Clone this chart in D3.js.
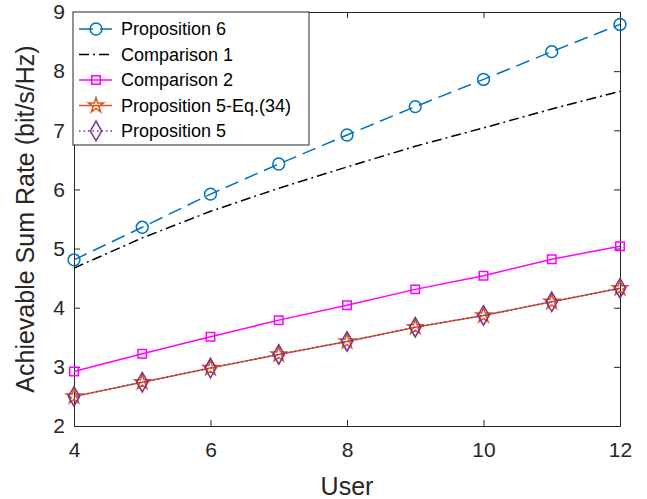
<!DOCTYPE html>
<html>
<head>
<meta charset="utf-8">
<script src="https://cdn.jsdelivr.net/npm/d3@7"></script>
<style>
  body { margin: 0; background: #fff; }
  svg { display: block; font-family: "Liberation Sans", Arial, sans-serif; }
</style>
</head>
<body>
<div id="chart"></div>
<script>
// Achievable sum rate vs. number of users (MATLAB-style line plot)

const users = [4, 5, 6, 7, 8, 9, 10, 11, 12];
const xTicks = [4, 6, 8, 10, 12];
const yTicks = [2, 3, 4, 5, 6, 7, 8, 9];

const prop6       = [4.81, 5.36, 5.92, 6.43, 6.92, 7.40, 7.86, 8.33, 8.79];
const comparison1 = [4.67, 5.18, 5.63, 6.02, 6.38, 6.73, 7.04, 7.36, 7.66];
const comparison2 = [2.92, 3.22, 3.51, 3.79, 4.04, 4.31, 4.54, 4.82, 5.04];
const prop5eq34   = [2.50, 2.74, 2.98, 3.21, 3.43, 3.67, 3.87, 4.10, 4.33];
const prop5       = [2.50, 2.74, 2.98, 3.21, 3.43, 3.67, 3.87, 4.10, 4.33];

const W = 647, H = 499;
const margin = { top: 12, right: 27, bottom: 73, left: 74 };
const iw = W - margin.left - margin.right;
const ih = H - margin.top - margin.bottom;
const axisColor = '#262626';

const series = [
  { name: 'Proposition 6', values: prop6, color: '#0072BD', dash: '14,7', marker: 'circle' },
  { name: 'Comparison 1', values: comparison1, color: '#000000', dash: '10,4,2,4', marker: null },
  { name: 'Comparison 2', values: comparison2, color: '#FF00FF', dash: null, marker: 'square' },
  { name: 'Proposition 5-Eq.(34)', values: prop5eq34, color: '#D95319', dash: null, marker: 'star' },
  { name: 'Proposition 5', values: prop5, color: '#7E2F8E', dash: '1.5,3', marker: 'diamond' },
];

const svg = d3.select('#chart').append('svg').attr('width', W).attr('height', H);
const g = svg.append('g').attr('transform', `translate(${margin.left},${margin.top})`);

const x = d3.scaleLinear().domain([4, 12]).range([0, iw]);
const y = d3.scaleLinear().domain([2, 9]).range([ih, 0]);

function markerPath(type) {
  switch (type) {
    case 'circle':  return d3.symbol(d3.symbolCircle, 110)();
    case 'square':  return d3.symbol(d3.symbolSquare, 72)();
    case 'star':    return d3.symbol(d3.symbolStar, 70)();
    case 'diamond': return d3.symbol(d3.symbolDiamond, 110)();
  }
  return null;
}

// axes box with inward ticks on all sides
const gx = g.append('g').attr('transform', `translate(0,${ih})`)
  .call(d3.axisBottom(x).tickValues(xTicks).tickFormat(d3.format('d'))
    .tickSizeInner(-6).tickSizeOuter(0).tickPadding(16));
const gxTop = g.append('g')
  .call(d3.axisTop(x).tickValues(xTicks).tickSizeInner(-6).tickSizeOuter(0).tickFormat(''));
const gy = g.append('g')
  .call(d3.axisLeft(y).tickValues(yTicks).tickFormat(d3.format('d'))
    .tickSizeInner(-6).tickSizeOuter(0).tickPadding(9));
const gyRight = g.append('g').attr('transform', `translate(${iw},0)`)
  .call(d3.axisRight(y).tickValues(yTicks).tickSizeInner(-6).tickSizeOuter(0).tickFormat(''));

[gx, gxTop, gy, gyRight].forEach(a => {
  a.selectAll('path.domain').attr('stroke', axisColor).attr('stroke-width', 1);
  a.selectAll('.tick line').attr('stroke', axisColor).attr('stroke-width', 1);
  a.selectAll('.tick text').attr('fill', axisColor).attr('font-size', 21)
    .attr('font-family', '"Liberation Sans", Arial, sans-serif');
});

// series lines & markers
const line = d3.line().x((d, i) => x(users[i])).y(d => y(d));

series.forEach(s => {
  const sg = g.append('g');
  sg.append('path')
    .attr('d', line(s.values))
    .attr('fill', 'none')
    .attr('stroke', s.color)
    .attr('stroke-width', 1.5)
    .attr('stroke-dasharray', s.dash);
  if (s.marker) {
    sg.selectAll('path.mk').data(s.values).join('path')
      .attr('class', 'mk')
      .attr('d', markerPath(s.marker))
      .attr('transform', (d, i) => `translate(${x(users[i])},${y(d)})`)
      .attr('fill', 'none')
      .attr('stroke', s.color)
      .attr('stroke-width', 1.5);
  }
});

// axis titles
svg.append('text')
  .attr('x', margin.left + iw / 2).attr('y', 495)
  .attr('text-anchor', 'middle').attr('font-size', 25).attr('fill', axisColor)
  .text('User');
svg.append('text')
  .attr('transform', `translate(34,${margin.top + ih / 2}) rotate(-90)`)
  .attr('text-anchor', 'middle').attr('font-size', 25).attr('fill', axisColor)
  .text('Achievable Sum Rate (bit/s/Hz)');

// legend
const lg = svg.append('g').attr('transform', 'translate(73,12)');
lg.append('rect').attr('width', 236).attr('height', 133)
  .attr('fill', '#fff').attr('stroke', axisColor).attr('stroke-width', 1);
series.forEach((s, i) => {
  const ry = 17 + i * 25.5;
  lg.append('line')
    .attr('x1', 6).attr('x2', 39).attr('y1', ry).attr('y2', ry)
    .attr('stroke', s.color).attr('stroke-width', 1.5)
    .attr('stroke-dasharray', s.dash);
  if (s.marker) {
    lg.append('path').attr('d', markerPath(s.marker))
      .attr('transform', `translate(23,${ry})`)
      .attr('fill', 'none').attr('stroke', s.color).attr('stroke-width', 1.5);
  }
  lg.append('text').attr('x', 48).attr('y', ry).attr('dy', '0.35em')
    .attr('font-size', 18).attr('fill', '#000').text(s.name);
});
</script>
</body>
</html>
